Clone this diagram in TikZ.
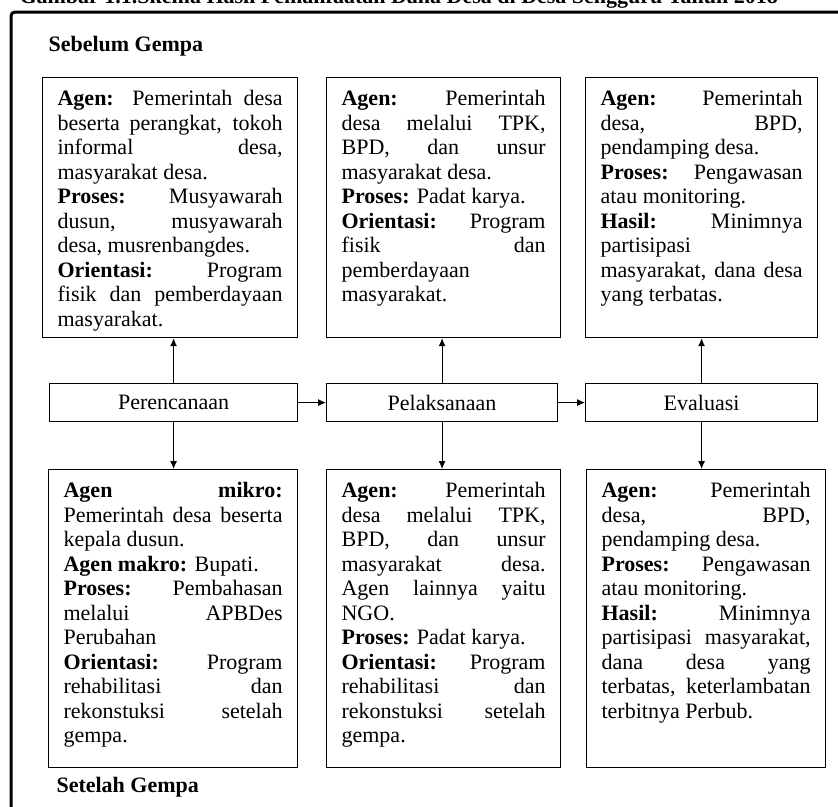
\documentclass[tikz,border=0pt]{standalone}
\usepackage{fontspec}
\setmainfont{Liberation Serif}
\usetikzlibrary{arrows.meta}

% baris rata kiri-kanan dan isi kotak
\newcommand{\rata}[1]{\makebox[\hsize][s]{#1}}
\newcommand{\isi}[3]{\begin{minipage}[t][#2][t]{#1}#3\end{minipage}}

\tikzset{
  kotak/.style={draw, line width=1.2pt, inner xsep=15pt, inner ysep=13pt, anchor=north west},
  tahap/.style={draw, line width=1.2pt, minimum height=38pt, anchor=north west},
  panah/.style={-{Latex[length=8pt,width=7pt]}, line width=1pt}
}

\begin{document}
\begin{tikzpicture}[x=1pt, y=-1pt, font=\fontsize{22}{24.5}\selectfont]
    \useasboundingbox (0,0) rectangle (838,806);
    \draw[line width=3pt, rounded corners=4pt] (11,840) -- (11,12) -- (860,12);

    \node[anchor=base west, font=\fontsize{22}{24.5}\selectfont\bfseries] (judul) at (16,3.5) {Gambar 1.1.Skema Hasil Pemanfaatan Dana Desa di Desa Sengguru Tahun 2018};
    \node[anchor=west, font=\fontsize{22}{24.5}\selectfont\bfseries] (sebelum) at (45,46) {Sebelum Gempa};

    % sebelum gempa
    \node[kotak] (rencanaAtas) at (42,77) {\isi{225pt}{234pt}{%
        \rata{\textbf{Agen:} Pemerintah desa}\\
        \rata{beserta perangkat, tokoh}\\
        \rata{informal desa,}\\
        masyarakat desa.\\
        \rata{\textbf{Proses:} Musyawarah}\\
        \rata{dusun, musyawarah}\\
        desa, musrenbangdes.\\
        \rata{\textbf{Orientasi:} Program}\\
        \rata{fisik dan pemberdayaan}\\
        masyarakat.}};
    \node[kotak] (laksanaAtas) at (326,77) {\isi{204pt}{234pt}{%
        \rata{\textbf{Agen:} Pemerintah}\\
        \rata{desa melalui TPK,}\\
        \rata{BPD, dan unsur}\\
        masyarakat desa.\\
        \textbf{Proses:} Padat karya.\\
        \rata{\textbf{Orientasi:} Program}\\
        \rata{fisik dan}\\
        pemberdayaan\\
        masyarakat.}};
    \node[kotak] (evaluasiAtas) at (585,77) {\isi{202pt}{234pt}{%
        \rata{\textbf{Agen:} Pemerintah}\\
        \rata{desa, BPD,}\\
        pendamping desa.\\
        \rata{\textbf{Proses:} Pengawasan}\\
        atau monitoring.\\
        \rata{\textbf{Hasil:} Minimnya}\\
        partisipasi\\
        \rata{masyarakat, dana desa}\\
        yang terbatas.}};

    % tahapan
    \node[tahap, minimum width=248pt] (rencana) at (49,383) {Perencanaan};
    \node[tahap, minimum width=231pt] (laksana) at (326,383) {Pelaksanaan};
    \node[tahap, minimum width=232pt] (evaluasi) at (585,383) {Evaluasi};

    % setelah gempa
    \node[kotak] (rencanaBawah) at (48,469) {\isi{219pt}{272pt}{%
        \rata{\textbf{Agen mikro:}}\\
        \rata{Pemerintah desa beserta}\\
        kepala dusun.\\
        \textbf{Agen makro:} Bupati.\\
        \rata{\textbf{Proses:} Pembahasan}\\
        \rata{melalui APBDes}\\
        Perubahan\\
        \rata{\textbf{Orientasi:} Program}\\
        \rata{rehabilitasi dan}\\
        \rata{rekonstuksi setelah}\\
        gempa.}};
    \node[kotak] (laksanaBawah) at (326,469) {\isi{204pt}{272pt}{%
        \rata{\textbf{Agen:} Pemerintah}\\
        \rata{desa melalui TPK,}\\
        \rata{BPD, dan unsur}\\
        \rata{masyarakat desa.}\\
        \rata{Agen lainnya yaitu}\\
        NGO.\\
        \textbf{Proses:} Padat karya.\\
        \rata{\textbf{Orientasi:} Program}\\
        \rata{rehabilitasi dan}\\
        \rata{rekonstuksi setelah}\\
        gempa.}};
    \node[kotak] (evaluasiBawah) at (586,469) {\isi{209pt}{272pt}{%
        \rata{\textbf{Agen:} Pemerintah}\\
        \rata{desa, BPD,}\\
        pendamping desa.\\
        \rata{\textbf{Proses:} Pengawasan}\\
        atau monitoring.\\
        \rata{\textbf{Hasil:} Minimnya}\\
        \rata{partisipasi masyarakat,}\\
        \rata{dana desa yang}\\
        \rata{terbatas, keterlambatan}\\
        terbitnya Perbub.}};

    \node[anchor=west, font=\fontsize{22}{24.5}\selectfont\bfseries] (setelah) at (53,787) {Setelah Gempa};

    \draw[panah] (rencana) -- (laksana);
    \draw[panah] (laksana) -- (evaluasi);
    \draw[panah] (rencana.north) -- (rencana.north |- rencanaAtas.south);
    \draw[panah] (laksana.north) -- (laksana.north |- laksanaAtas.south);
    \draw[panah] (evaluasi.north) -- (evaluasi.north |- evaluasiAtas.south);
    \draw[panah] (rencana.south) -- (rencana.south |- rencanaBawah.north);
    \draw[panah] (laksana.south) -- (laksana.south |- laksanaBawah.north);
    \draw[panah] (evaluasi.south) -- (evaluasi.south |- evaluasiBawah.north);
\end{tikzpicture}
\end{document}
